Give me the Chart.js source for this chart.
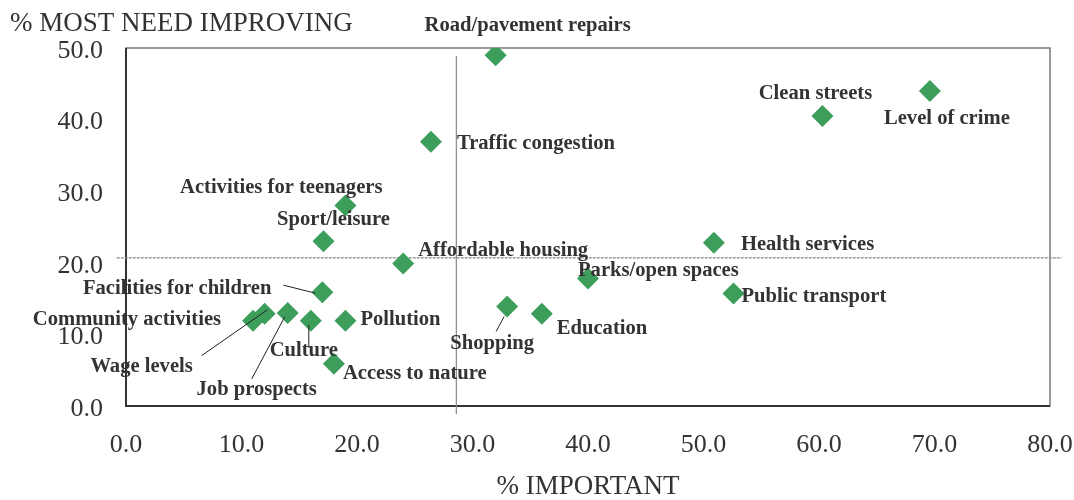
<!DOCTYPE html>
<html>
<head>
<meta charset="utf-8">
<script src="https://cdn.jsdelivr.net/npm/chart.js@4"></script>
<style>
  html, body { margin: 0; padding: 0; background: #fff; }
  #wrap { width: 1074px; height: 500px; }
</style>
</head>
<body>
<div id="wrap"><canvas id="chart"></canvas></div>
<script>
var names = ['Road/pavement repairs', 'Traffic congestion', 'Clean streets', 'Level of crime',
    'Activities for teenagers', 'Sport/leisure', 'Affordable housing', 'Health services',
    'Parks/open spaces', 'Public transport', 'Shopping', 'Education', 'Facilities for children',
    'Community activities', 'Wage levels', 'Job prospects', 'Culture', 'Pollution', 'Access to nature'];
var important = [32.0, 26.4, 60.3, 69.6, 19.0, 17.1, 24.0, 50.9, 40.0, 52.6, 33.0, 36.0, 17.0, 11.0, 12.0, 14.0, 16.0, 19.0, 18.0];
var needImproving = [49.0, 36.9, 40.5, 44.0, 28.0, 23.0, 19.9, 22.8, 17.8, 15.7, 13.9, 12.9, 15.9, 11.9, 12.9, 13.0, 11.9, 11.9, 5.9];
var xTicks = [0, 10, 20, 30, 40, 50, 60, 70, 80];
var yTicks = [0, 10, 20, 30, 40, 50];
var avgImportant = 28.6;
var avgNeed = 20.7;

// label placement: [dx, dy, align, leader line [x1,y1,x2,y2] relative to point or null]
var labelPos = [
    [32, -29, 'center', null],
    [26, 2, 'left', null],
    [-7, -22, 'center', null],
    [17, 28, 'center', null],
    [37, -18, 'right', null],
    [10, -22, 'center', null],
    [15, -13, 'left', null],
    [27, 2, 'left', null],
    [-10, -8, 'left', null],
    [8, 3, 'left', null],
    [-15, 37, 'center', [-3, 10, -11, 25]],
    [15, 15, 'left', null],
    [-51, -3, 'right', [-39, -7, -7, 1]],
    [-32, -1, 'right', null],
    [-123, 53, 'center', [-63, 42, 3, -4]],
    [-31, 77, 'center', [-36, 66, -3, 4]],
    [-7, 30, 'center', [-2, 4, -2, 27]],
    [15, -1, 'left', null],
    [9, 10, 'left', null]
];

var points = important.map(function (x, i) { return { x: x, y: needImproving[i] }; });

var serif = "'Liberation Serif', 'Times New Roman', serif";

var frame = {
    id: 'frame',
    beforeDatasetsDraw: function (chart) {
        var a = chart.chartArea, ctx = chart.ctx;
        ctx.save();
        ctx.strokeStyle = '#666';
        ctx.lineWidth = 1.3;
        ctx.strokeRect(a.left, a.top, a.right - a.left, a.bottom - a.top);
        ctx.strokeStyle = '#333';
        ctx.lineWidth = 2;
        ctx.beginPath();
        ctx.moveTo(a.left, a.top);
        ctx.lineTo(a.left, a.bottom);
        ctx.lineTo(a.right, a.bottom);
        ctx.stroke();
        ctx.restore();
    },
    afterDraw: function (chart) {
        var ctx = chart.ctx;
        var xs = chart.scales.x, ys = chart.scales.y;
        ctx.save();
        ctx.fillStyle = '#333';
        ctx.font = '27px ' + serif;
        ctx.textAlign = 'left';
        ctx.textBaseline = 'middle';
        ctx.fillText('% MOST NEED IMPROVING', 10, 24);

        ctx.font = 'bold 20.6px ' + serif;
        ctx.strokeStyle = '#222';
        ctx.lineWidth = 1;
        names.forEach(function (n, i) {
            var px = xs.getPixelForValue(important[i]);
            var py = ys.getPixelForValue(needImproving[i]);
            var p = labelPos[i];
            ctx.textAlign = p[2];
            ctx.fillText(n, px + p[0], py + p[1]);
            if (p[3]) {
                ctx.beginPath();
                ctx.moveTo(px + p[3][0], py + p[3][1]);
                ctx.lineTo(px + p[3][2], py + p[3][3]);
                ctx.stroke();
            }
        });
        ctx.restore();
    }
};

new Chart(document.getElementById('chart'), {
    type: 'scatter',
    data: {
        datasets: [{
            label: 'Issues',
            data: points,
            pointStyle: 'rectRot',
            pointRadius: 11,
            pointHoverRadius: 11,
            backgroundColor: '#3d9e5c',
            borderColor: '#3d9e5c',
            borderWidth: 0
        }, {
            type: 'line',
            label: 'avg important',
            data: [{ x: avgImportant, y: 48.9 }, { x: avgImportant, y: -1.1 }],
            borderColor: '#888',
            borderWidth: 1.2,
            pointRadius: 0,
            clip: false
        }, {
            type: 'line',
            label: 'avg need',
            data: [{ x: -0.8, y: avgNeed }, { x: 81, y: avgNeed }],
            borderColor: '#888',
            borderWidth: 1.2,
            borderDash: [3, 1],
            pointRadius: 0,
            clip: false
        }]
    },
    options: {
        responsive: true,
        maintainAspectRatio: false,
        animation: false,
        layout: { padding: { left: 0, right: 24, top: 48, bottom: 0 } },
        plugins: {
            legend: { display: false },
            tooltip: { enabled: false }
        },
        scales: {
            x: {
                type: 'linear',
                min: 0,
                max: 80,
                afterBuildTicks: function (s) { s.ticks = xTicks.map(function (v) { return { value: v }; }); },
                afterFit: function (s) { s.height = 94; s.paddingLeft = 0; s.paddingRight = 0; },
                grid: { display: false, drawTicks: false },
                border: { display: false },
                ticks: {
                    padding: 24,
                    color: '#333',
                    font: { family: serif, size: 26 },
                    maxRotation: 0,
                    callback: function (v) { return v.toFixed(1); }
                },
                title: {
                    display: true,
                    text: '% IMPORTANT',
                    color: '#333',
                    font: { family: serif, size: 27, lineHeight: 1 },
                    padding: { top: 10, bottom: 0 }
                }
            },
            y: {
                type: 'linear',
                min: 0,
                max: 50,
                afterBuildTicks: function (s) { s.ticks = yTicks.map(function (v) { return { value: v }; }); },
                afterFit: function (s) { s.width = 126; s.paddingTop = 0; s.paddingBottom = 0; },
                grid: { display: false, drawTicks: false },
                border: { display: false },
                ticks: {
                    padding: 23,
                    labelOffset: 3,
                    color: '#333',
                    font: { family: serif, size: 26 },
                    callback: function (v) { return v.toFixed(1); }
                }
            }
        }
    },
    plugins: [frame]
});
</script>
</body>
</html>
